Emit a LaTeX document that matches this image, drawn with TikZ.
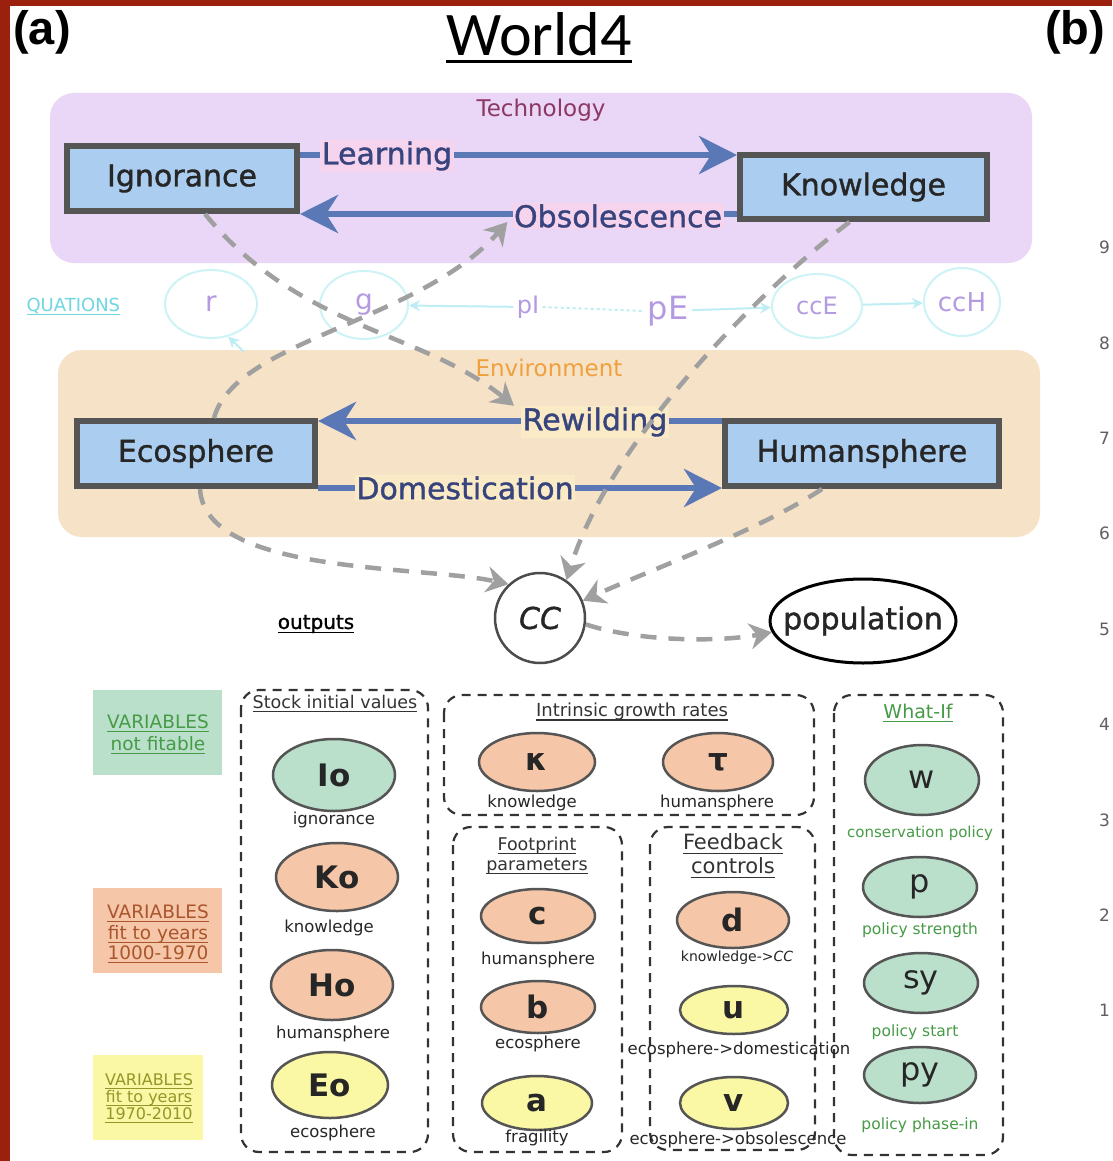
\documentclass[tikz,border=0pt]{standalone}
\usepackage{fontspec}
\setmainfont{DejaVu Sans}
\newfontfamily\heavy[FakeBold=1.2]{DejaVu Sans}
\newfontfamily\panelfont{Liberation Sans}
\newfontfamily\titlefont{Carlito}
\usetikzlibrary{arrows.meta,shapes.geometric}
\definecolor{frame}{RGB}{155,32,14}
\definecolor{techfill}{RGB}{234,214,246}
\definecolor{envfill}{RGB}{246,226,198}
\definecolor{boxblue}{RGB}{170,205,240}
\definecolor{boxedge}{RGB}{85,85,85}
\definecolor{flowblue}{RGB}{90,120,181}
\definecolor{flowtext}{RGB}{55,68,125}
\definecolor{techtext}{RGB}{140,55,100}
\definecolor{envtext}{RGB}{240,160,60}
\definecolor{dashgray}{RGB}{160,160,160}
\definecolor{eqcyan}{RGB}{205,243,246}
\definecolor{eqline}{RGB}{190,238,243}
\definecolor{eqtext}{RGB}{180,155,225}
\definecolor{eqlink}{RGB}{110,215,225}
\definecolor{mint}{RGB}{186,224,204}
\definecolor{peach}{RGB}{245,199,168}
\definecolor{lemon}{RGB}{250,247,165}
\definecolor{greentext}{RGB}{70,155,70}
\definecolor{browntext}{RGB}{170,85,45}
\definecolor{olivetext}{RGB}{150,150,40}
\definecolor{pinkbg}{RGB}{246,212,238}
\definecolor{yellowbg}{RGB}{250,234,198}
\definecolor{axisgray}{RGB}{95,95,95}
\newcommand\fs[2]{\fontsize{#1}{#2}\selectfont}
\newcommand\myul[1]{\setbox0=\hbox{#1}\leavevmode\rlap{\rule[-0.2em]{\wd0}{0.065em}}\box0}
\newcommand\titleul[1]{\setbox0=\hbox{#1}\leavevmode\rlap{\rule[-7pt]{\wd0}{3pt}}\box0}
\tikzset{
 stockbox/.style={draw=boxedge, line width=6pt, fill=boxblue, inner sep=0pt, font=\heavy\fs{30}{30}, text=black!85},
 flow/.style={draw=flowblue, line width=6pt, -{Stealth[length=38pt,width=38pt,inset=12pt]}},
 flowlabel/.style={font=\heavy\fs{30}{30}, text=flowtext, inner sep=1.5pt},
 dashlink/.style={draw=dashgray, line width=4.5pt, dash pattern=on 16pt off 12pt, -{Stealth[length=22pt,width=26pt,inset=7pt]}},
 eqell/.style={ellipse, draw=eqcyan, line width=2pt, inner sep=0pt, text=eqtext},
 eqarrow/.style={draw=eqline, line width=2pt, -{Stealth[length=11pt,width=11pt]}},
 varell/.style={ellipse, draw=boxedge, line width=2.5pt, inner sep=0pt, font=\fs{31}{31}\bfseries, text=black!85},
 whatell/.style={ellipse, draw=boxedge, line width=2.5pt, inner sep=0pt, fill=mint, font=\fs{32}{32}, text=black!85},
 subl/.style={font=\fs{16.5}{16.5}, text=black!85},
 greensub/.style={font=\fs{15}{15}, text=greentext},
 groupbox/.style={draw=black!80, line width=2.2pt, dash pattern=on 9pt off 7pt, rounded corners=18pt},
 grouplab/.style={font=\fs{18}{21}, text=black!80, align=center},
}
\begin{document}
\begin{tikzpicture}[x=1pt,y=-1pt]
\useasboundingbox (0,0) rectangle (1112,1161);
\fill[white] (0,0) rectangle (1112,1161);

% titles
\node[anchor=base, font=\panelfont\bfseries\fs{47}{47}] (pa) at (42,45) {(a)};
\node[anchor=base, font=\panelfont\bfseries\fs{47}{47}] (pb) at (1075,45) {(b)};
\node[anchor=base, font=\titlefont\fs{62}{62}] (title) at (539,56) {\titleul{World4}};

% panels
\fill[techfill, rounded corners=24pt] (50,93) rectangle (1032,263);
\fill[envfill, rounded corners=24pt] (58,350) rectangle (1040,537);
\node[font=\fs{23}{23}, text=techtext] (techlab) at (541,110) {Technology};
\node[font=\fs{23}{23}, text=envtext] (envlab) at (549,368) {Environment};

% equations row (faint)
\node[anchor=west, font=\fs{18}{18}, text=eqlink] (eqhead) at (23,307) {\myul{QUATIONS}};
\node[eqell, minimum width=92pt, minimum height=68pt, font=\fs{28}{28}] (r) at (211,304) {r};
\node[eqell, minimum width=88pt, minimum height=68pt, font=\fs{28}{28}] (g) at (364,305) {g};
\node[font=\fs{24}{24}, text=eqtext] (pI) at (528,307) {pI};
\node[font=\fs{32}{32}, text=eqtext] (pE) at (668,311) {pE};
\node[eqell, minimum width=90pt, minimum height=64pt, font=\fs{24}{24}] (ccE) at (817,306) {ccE};
\node[eqell, minimum width=76pt, minimum height=68pt, font=\fs{26}{26}] (ccH) at (962,302) {ccH};
\coordinate (rfoot) at (244,352);
\draw[eqarrow] (pI) -- (g);
\draw[eqline, line width=2pt, dashed] (pI.east) -- (pE.west);
\draw[eqarrow] (pE) -- (ccE);
\draw[eqarrow] (ccE) -- (ccH);
\draw[eqarrow] (rfoot) -- (r.-62);

% stocks
\node[stockbox, minimum width=230pt, minimum height=65pt] (ign) at (182,178.5) {Ignorance};
\node[stockbox, minimum width=247pt, minimum height=64pt] (know) at (863.5,187) {Knowledge};
\node[stockbox, minimum width=238pt, minimum height=65pt] (eco) at (196,453.5) {Ecosphere};
\node[stockbox, minimum width=274pt, minimum height=65pt] (hum) at (862,453.5) {Humansphere};

% flows
\draw[flow] (ign.east |- 0,155) -- (know.west |- 0,155);
\draw[flow] (know.west |- 0,214) -- (ign.east |- 0,214);
\draw[flow] (hum.west |- 0,421) -- (eco.east |- 0,421);
\draw[flow] (eco.east |- 0,488) -- (hum.west |- 0,488);
\node[flowlabel, fill=pinkbg] (learn) at (387,156) {Learning};
\node[flowlabel, fill=pinkbg] (obs) at (618,216) {Obsolescence};
\node[flowlabel, fill=yellowbg] (rew) at (595,422) {Rewilding};
\node[flowlabel, fill=yellowbg] (dom) at (465,488) {Domestication};

% outputs
\node[circle, draw=black!70, line width=2.5pt, minimum size=90pt, inner sep=0pt, font=\heavy\fs{30}{30}\itshape, text=black!85] (cc) at (540,618) {CC};
\node[ellipse, draw=black, line width=3pt, minimum width=186pt, minimum height=84pt, inner sep=0pt] (pop) at (863,621) {};
\node[font=\heavy\fs{30}{30}, text=black!85] (poptext) at (pop.center) {population};
\node[font=\heavy\fs{20}{20}] (outl) at (316,624) {\myul{outputs}};

% dashed influences
\draw[dashlink] ([xshift=23pt]ign.south) .. controls (300,330) and (420,330) .. ([xshift=-7pt]rew.north west);
\draw[dashlink] ([xshift=18pt]eco.north) .. controls (235,340) and (420,322) .. ([xshift=-5pt,yshift=-6pt]obs.west);
\draw[dashlink] ([xshift=-14pt]know.south) .. controls (760,290) and (610,440) .. (cc.55);
\draw[dashlink] ([xshift=4pt]eco.south) .. controls (205,575) and (420,565) .. (cc.133);
\draw[dashlink] ([xshift=-40pt]hum.south) .. controls (760,530) and (650,570) .. (cc.22);
\draw[dashlink] (cc.-8) .. controls (640,642) and (720,642) .. (pop.187);

% legend
\fill[mint] (93,690) rectangle (222,775);
\fill[peach] (93,888) rectangle (222,973);
\fill[lemon] (93,1055) rectangle (203,1140);
\node[align=center, font=\fs{18.5}{22}, text=greentext] (leg1) at (158,734) {\myul{VARIABLES}\\\myul{not fitable}};
\node[align=center, font=\fs{18.5}{20.5}, text=browntext] (leg2) at (158,934) {\myul{VARIABLES}\\\myul{fit to years}\\\myul{1000-1970}};
\node[align=center, font=\fs{16}{17}, text=olivetext] (leg3) at (149,1098) {\myul{VARIABLES}\\\myul{fit to years}\\\myul{1970-2010}};

% groups
\draw[groupbox] (241,690) rectangle (428,1152);
\draw[groupbox] (444,695) rectangle (814,815);
\draw[groupbox] (453,827) rectangle (622,1152);
\draw[groupbox] (650,827) rectangle (815,1150);
\draw[groupbox] (834,695) rectangle (1003,1155);
\node[grouplab, font=\fs{17.5}{17.5}, fill=white, inner sep=1pt] (g1) at (335,704) {\myul{Stock initial values}};
\node[grouplab] (g2) at (632,712) {\myul{Intrinsic growth rates}};
\node[grouplab, font=\fs{17.5}{20}] (g3) at (537,856) {\myul{Footprint}\\\myul{parameters}};
\node[grouplab, font=\fs{21}{24}] (g4) at (733,856) {\myul{Feedback}\\\myul{controls}};
\node[grouplab, font=\fs{19}{19}, text=greentext] (g5) at (918,713) {\myul{What-If}};

% stock initial values
\node[varell, fill=mint, minimum width=122pt, minimum height=72pt] (Io) at (334,775) {Io};
\node[subl] (Iol) at (334,820) {ignorance};
\node[varell, fill=peach, minimum width=122pt, minimum height=68pt] (Ko) at (337,877) {Ko};
\node[subl] (Kol) at (329,928) {knowledge};
\node[varell, fill=peach, minimum width=122pt, minimum height=70pt] (Ho) at (332,985) {Ho};
\node[subl] (Hol) at (333,1034) {humansphere};
\node[varell, fill=lemon, minimum width=116pt, minimum height=66pt] (Eo) at (330,1085) {Eo};
\node[subl] (Eol) at (333,1133) {ecosphere};

% intrinsic growth rates
\node[varell, fill=peach, minimum width=116pt, minimum height=58pt] (kap) at (537,762) {κ};
\node[subl] (kapl) at (532,803) {knowledge};
\node[varell, fill=peach, minimum width=110pt, minimum height=58pt] (tau) at (718,762) {τ};
\node[subl] (taul) at (717,803) {humansphere};

% footprint
\node[varell, fill=peach, minimum width=114pt, minimum height=54pt] (c) at (538,916) {c};
\node[subl] (cl) at (538,960) {humansphere};
\node[varell, fill=peach, minimum width=114pt, minimum height=52pt] (b) at (538,1007) {b};
\node[subl] (bl) at (538,1044) {ecosphere};
\node[varell, fill=lemon, minimum width=110pt, minimum height=54pt] (a) at (537,1103) {a};
\node[subl] (al) at (537,1138) {fragility};

% feedback
\node[varell, fill=peach, minimum width=112pt, minimum height=56pt] (d) at (733,920) {d};
\node[font=\fs{14}{14}, text=black!85] (dl) at (737,958) {knowledge->\textit{CC}};
\node[varell, fill=lemon, minimum width=108pt, minimum height=48pt] (u) at (734,1010) {u};
\node[subl] (ul) at (739,1050) {ecosphere->domestication};
\node[varell, fill=lemon, minimum width=108pt, minimum height=52pt] (v) at (734,1103) {v};
\node[subl] (vl) at (738,1140) {ecosphere->obsolescence};

% what-if
\node[whatell, minimum width=114pt, minimum height=70pt] (w) at (922,780) {w};
\node[greensub] (wl) at (920,833) {conservation policy};
\node[whatell, minimum width=114pt, minimum height=60pt] (p) at (920,887) {p};
\node[greensub, font=\fs{15.5}{15.5}] (pl) at (920,930) {policy strength};
\node[whatell, minimum width=114pt, minimum height=60pt] (sy) at (921,983) {sy};
\node[greensub, font=\fs{15.5}{15.5}] (syl) at (915,1032) {policy start};
\node[whatell, minimum width=112pt, minimum height=56pt] (py) at (920,1075) {py};
\node[greensub, font=\fs{15.5}{15.5}] (pyl) at (920,1125) {policy phase-in};

% axis of panel (b)
\foreach \d/\yy in {9/247,8/343,7/438,6/533,5/629,4/724,3/820,2/915,1/1010}
  \node[anchor=east, inner sep=1pt, font=\fs{17}{17}, text=axisgray] (ax\d) at (1111,\yy) {\d};

% frame
\fill[frame] (0,0) rectangle (10,1161);
\fill[frame] (0,0) rectangle (1112,6);
\end{tikzpicture}
\end{document}
